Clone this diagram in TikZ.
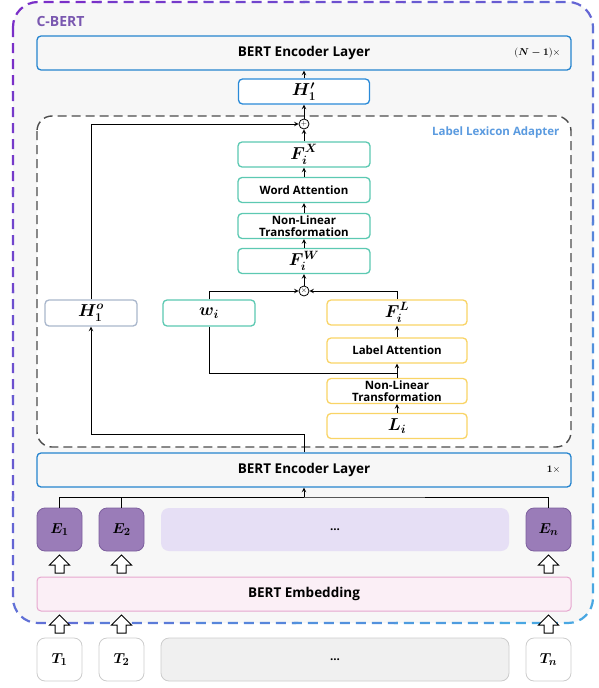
\documentclass[tikz,border=0pt]{standalone}
\usepackage{amsmath}
\usepackage{fontspec}
\setmainfont{Open Sans}
\usetikzlibrary{calc}
\definecolor{cpurple}{HTML}{7A2FC8}
\definecolor{cblue}{HTML}{49A8E2}
\definecolor{outerbg}{HTML}{F7F7F7}
\definecolor{encblue}{HTML}{2584CF}
\definecolor{hblue}{HTML}{2A8AD8}
\definecolor{tgreen}{HTML}{5CC9B2}
\definecolor{tyellow}{HTML}{F9D466}
\definecolor{hgray}{HTML}{A9B7CC}
\definecolor{epurple}{HTML}{9A7CB8}
\definecolor{epurpled}{HTML}{7D5F9E}
\definecolor{elight}{HTML}{E6DFF5}
\definecolor{embpink}{HTML}{FBEFF6}
\definecolor{embpinkd}{HTML}{E6A8CF}
\definecolor{tgray}{HTML}{CCCCCC}
\definecolor{tlight}{HTML}{F0F0F0}
\definecolor{cbert}{HTML}{7A58B0}
\definecolor{llablue}{HTML}{5B9BE0}
\begin{document}
\begin{tikzpicture}[x=1pt,y=-1pt,>=stealth,
	box/.style={rectangle,rounded corners=4pt,line width=1.3pt,inner sep=0pt,align=center,fill=white,
		font=\bfseries\fontsize{11.5}{12.5}\selectfont},
	enc/.style={box,draw=encblue,fill=outerbg,minimum width=534pt,minimum height=34pt,
		font=\bfseries\fontsize{13.5}{15}\selectfont},
	gbox/.style={box,draw=tgreen,minimum width=132pt,minimum height=25pt},
	ybox/.style={box,draw=tyellow,minimum width=140pt,minimum height=25pt},
	ebox/.style={box,rounded corners=8pt,line width=0.8pt,draw=epurpled,fill=epurple,minimum width=45pt,minimum height=43pt,
		font=\fontsize{15.5}{17}\selectfont},
	tbox/.style={box,rounded corners=8pt,line width=0.8pt,draw=tgray,fill=white,minimum width=45pt,minimum height=43pt,
		font=\fontsize{15.5}{17}\selectfont},
	mth/.style={font=\fontsize{17.5}{19}\selectfont},
	op/.style={circle,draw,line width=0.8pt,inner sep=0pt,minimum size=10pt,fill=white,font=\fontsize{7}{7}\selectfont},
	link/.style={line width=1pt},
	hollow up/.pic={\draw[fill=white,line width=1pt] (-4.5,9)--(-4.5,1)--(-10,1)--(0,-9)--(10,1)--(4.5,1)--(4.5,9)--cycle;}]
	\useasboundingbox (0,0) rectangle (599,688);
	% C-BERT frame
	\fill[outerbg,rounded corners=25pt] (13,2) rectangle (593,623);
	\foreach \i in {0,...,11}{
		\pgfmathsetmacro{\pct}{100-\i*9}
		\begin{scope}
			\clip (\i*102+18,-20)--(\i*102+124,-20)--(\i*102-596,700)--(\i*102-702,700)--cycle;
			\draw[line width=2.2pt,dash pattern=on 10pt off 6pt,rounded corners=25pt,draw={cpurple!\pct!cblue}] (13,2) rectangle (593,623);
		\end{scope}
	}
	\node[font=\bfseries\fontsize{14}{16}\selectfont,text=cbert,anchor=west] (title) at (33,21) {C-BERT};
	% top encoder
	\node[enc] (enc2) at (304,53) {BERT Encoder Layer};
	\node[font=\fontsize{10}{12}\selectfont,anchor=east] (rep2) at (564,53) {$(\boldsymbol{N-1})\times$};
	\node[box,draw=hblue,minimum width=131pt,minimum height=25pt,mth] (h1p) at (304,91.5) {$\boldsymbol{H'_1}$};
	% adapter
	\draw[fill=white,draw=black!70,line width=1.4pt,dash pattern=on 9pt off 5pt,rounded corners=15pt] (37,116) rectangle (571,447);
	\node[font=\bfseries\fontsize{11.5}{13}\selectfont,text=llablue,anchor=east] (llatitle) at (563,133) {Label Lexicon Adapter};
	\node[op] (plus) at (304,124) {$+$};
	\node[gbox,mth] (fx) at (304,154.5) {$\boldsymbol{F_i^X}$};
	\node[gbox] (watt) at (304,190) {Word Attention};
	\node[gbox] (nlt1) at (304,226) {Non-Linear\\Transformation};
	\node[gbox,mth] (fw) at (304,261) {$\boldsymbol{F_i^W}$};
	\node[op] (times) at (304,291) {$\times$};
	\node[box,draw=hgray,minimum width=92pt,minimum height=26pt,mth] (h1o) at (91,313) {$\boldsymbol{H_1^o}$};
	\node[box,draw=tgreen,minimum width=92pt,minimum height=26pt,mth] (wi) at (209,313) {$\boldsymbol{w_i}$};
	\node[ybox,mth] (fl) at (397,312.5) {$\boldsymbol{F_i^L}$};
	\node[ybox] (latt) at (397,350.5) {Label Attention};
	\node[ybox] (nlt2) at (397,391) {Non-Linear\\Transformation};
	\node[ybox,mth] (li) at (397,426) {$\boldsymbol{L_i}$};
	\coordinate (wj) at (397,373);
	% lower encoder
	\node[enc] (enc1) at (304,470) {BERT Encoder Layer};
	\node[font=\fontsize{10}{12}\selectfont,anchor=east] (rep1) at (564,470) {$\boldsymbol{1}\times$};
	\node[ebox] (e1) at (59.5,529.5) {$\boldsymbol{E_1}$};
	\node[ebox] (e2) at (121.5,529.5) {$\boldsymbol{E_2}$};
	\node[box,rounded corners=8pt,draw=none,fill=elight,minimum width=348pt,minimum height=43pt] (edots) at (335,529.5) {...};
	\node[ebox] (en) at (548.5,529.5) {$\boldsymbol{E_n}$};
	\node[box,line width=1pt,draw=embpinkd,fill=embpink,minimum width=534pt,minimum height=34pt,
		font=\bfseries\fontsize{13.5}{15}\selectfont] (emb) at (304,594) {BERT Embedding};
	\coordinate (ebus) at (304,497);
	% tokens
	\node[tbox] (t1) at (59.5,659.5) {$\boldsymbol{T_1}$};
	\node[tbox] (t2) at (121.5,659.5) {$\boldsymbol{T_2}$};
	\node[tbox,fill=tlight,minimum width=348pt,font=\bfseries\fontsize{11.5}{12.5}\selectfont] (tdots) at (335,659.5) {...};
	\node[tbox] (tn) at (548.5,659.5) {$\boldsymbol{T_n}$};
	% connectors
	\draw[link,->] (h1p) -- (enc2);
	\draw[link,->] (plus) -- (h1p);
	\draw[link,->] (fx) -- (plus);
	\draw[link,->] (watt) -- (fx);
	\draw[link,->] (nlt1) -- (watt);
	\draw[link,->] (fw) -- (nlt1);
	\draw[link,->] (times) -- (fw);
	\draw[link,->] (h1o.north) |- (plus.west);
	\draw[link,->] (wi.north) |- (times.west);
	\draw[link,->] (fl.north) |- (times.east);
	\draw[link,->] (latt) -- (fl);
	\draw[link,->] (nlt2) -- (latt);
	\draw[link,->] (li) -- (nlt2);
	\draw[link] (wi.south) |- (wj);
	\draw[link,->] (enc1.north) -- ++(0,-18) -| (h1o.south);
	\draw[link] (e1.north) |- (ebus) -| (en.north);
	\draw[link] (e2.north) |- (ebus);
	\draw[link,->] (ebus) -- (enc1.south);
	\foreach \n in {1,2,n}{
		\pic at (e\n.south |- 0,564) {hollow up};
		\pic at (t\n.north |- 0,624) {hollow up};
	}
\end{tikzpicture}
\end{document}
